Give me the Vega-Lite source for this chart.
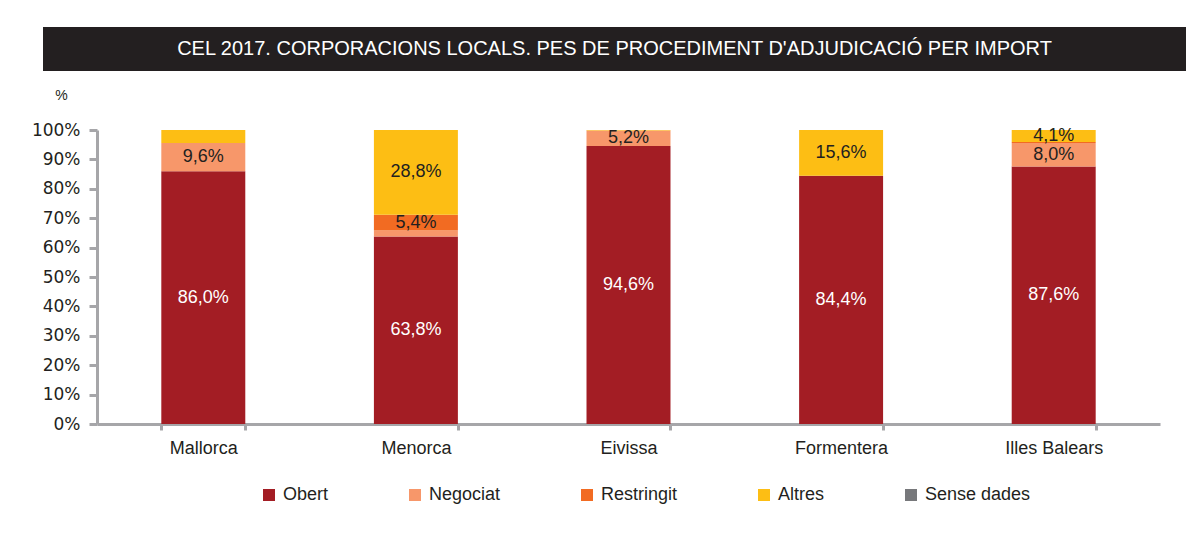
{
  "$schema": "https://vega.github.io/schema/vega-lite/v6.json",
  "autosize": {"type": "pad"},
  "padding": {"left": 31, "top": 27, "right": 0, "bottom": 12},
  "background": "white",
  "spacing": 59,
  "bounds": "flush",
  "config": {
    "view": {"stroke": null},
    "font": "Liberation Sans, Arial, sans-serif",
    "axisY": {
      "title": "%",
      "titleAngle": 0,
      "titleX": -36,
      "titleY": -35,
      "titleAlign": "center",
      "titleBaseline": "middle",
      "titleFontSize": 14,
      "titleFontWeight": "normal",
      "titleColor": "#231F20",
      "offset": -54,
      "values": [0, 10, 20, 30, 40, 50, 60, 70, 80, 90, 100],
      "labelOverlap": false,
      "labelFont": "DejaVu Sans",
      "labelFontSize": 17,
      "labelColor": "#231F20",
      "labelPadding": 9,
      "domainColor": "#A6A6A9",
      "domainWidth": 3,
      "tickColor": "#A6A6A9",
      "tickWidth": 3,
      "tickSize": 8,
      "grid": false
    }
  },
  "vconcat": [
    {
      "width": 1143,
      "height": 44,
      "view": {"fill": "#231F20", "stroke": null},
      "data": {"values": [{"titol": "CEL 2017. CORPORACIONS LOCALS. PES DE  PROCEDIMENT D'ADJUDICACIÓ PER IMPORT"}]},
      "mark": {"type": "text", "color": "#FFFFFF", "fontSize": 20, "align": "center", "baseline": "middle", "dy": 0},
      "encoding": {"text": {"field": "titol", "type": "nominal"}}
    },
    {
      "width": 1143,
      "height": 294,
      "data": {
        "values": [
          {"regio": "Mallorca", "tipus": "Obert", "valor": 86.0, "etiqueta": "86,0%"},
          {"regio": "Mallorca", "tipus": "Negociat", "valor": 9.6, "etiqueta": "9,6%"},
          {"regio": "Mallorca", "tipus": "Altres", "valor": 4.4, "etiqueta": ""},
          {"regio": "Menorca", "tipus": "Obert", "valor": 63.8, "etiqueta": "63,8%"},
          {"regio": "Menorca", "tipus": "Negociat", "valor": 2.0, "etiqueta": ""},
          {"regio": "Menorca", "tipus": "Restringit", "valor": 5.4, "etiqueta": "5,4%"},
          {"regio": "Menorca", "tipus": "Altres", "valor": 28.8, "etiqueta": "28,8%"},
          {"regio": "Eivissa", "tipus": "Obert", "valor": 94.6, "etiqueta": "94,6%"},
          {"regio": "Eivissa", "tipus": "Negociat", "valor": 5.2, "etiqueta": "5,2%"},
          {"regio": "Eivissa", "tipus": "Altres", "valor": 0.2, "etiqueta": ""},
          {"regio": "Formentera", "tipus": "Obert", "valor": 84.4, "etiqueta": "84,4%"},
          {"regio": "Formentera", "tipus": "Altres", "valor": 15.6, "etiqueta": "15,6%"},
          {"regio": "Illes Balears", "tipus": "Obert", "valor": 87.6, "etiqueta": "87,6%"},
          {"regio": "Illes Balears", "tipus": "Negociat", "valor": 8.0, "etiqueta": "8,0%"},
          {"regio": "Illes Balears", "tipus": "Restringit", "valor": 0.3, "etiqueta": ""},
          {"regio": "Illes Balears", "tipus": "Altres", "valor": 4.1, "etiqueta": "4,1%"}
        ]
      },
      "transform": [{"stack": "valor", "groupby": ["regio"], "as": ["v0", "v1"]}],
      "encoding": {
        "x": {
          "field": "regio",
          "type": "nominal",
          "sort": ["Mallorca", "Menorca", "Eivissa", "Formentera", "Illes Balears"],
          "scale": {"range": [54, 1117], "paddingInner": 0.605, "paddingOuter": 0.3025},
          "axis": {
            "title": null,
            "labelAngle": 0,
            "labelFontSize": 18,
            "labelColor": "#231F20",
            "labelPadding": 9,
            "domainColor": "#A6A6A9",
            "domainWidth": 3,
            "tickColor": "#A6A6A9",
            "tickWidth": 3,
            "tickSize": 6,
            "tickBand": "extent",
            "grid": false
          }
        }
      },
      "layer": [
        {
          "mark": {"type": "bar"},
          "encoding": {
            "y": {
              "field": "v0",
              "type": "quantitative",
              "title": "%",
              "scale": {"domain": [0, 100]},
              "axis": {"labelExpr": "datum.value + '%'", "values": [0, 10, 20, 30, 40, 50, 60, 70, 80, 90, 100]}
            },
            "y2": {"field": "v1"},
            "color": {
              "field": "tipus",
              "type": "nominal",
              "scale": {
                "domain": ["Obert", "Negociat", "Restringit", "Altres", "Sense dades"],
                "range": ["#A31D24", "#F7976A", "#F26B22", "#FDBE14", "#77787B"]
              },
              "legend": {
                "title": null,
                "orient": "none",
                "legendX": 217,
                "legendY": 459,
                "direction": "horizontal",
                "gridAlign": "none",
                "columnPadding": 77,
                "symbolType": "square",
                "symbolSize": 144,
                "symbolStrokeWidth": 0,
                "symbolOffset": 0,
                "labelOffset": 5,
                "labelFontSize": 18,
                "labelColor": "#231F20",
                "padding": 0
              }
            }
          }
        },
        {
          "transform": [
            {"filter": "datum.etiqueta != ''"},
            {"calculate": "(datum.v0 + datum.v1) / 2", "as": "centre"}
          ],
          "mark": {"type": "text", "fontSize": 18, "baseline": "middle", "align": "center"},
          "encoding": {
            "y": {
              "field": "centre",
              "type": "quantitative",
              "title": "%",
              "axis": {"labelExpr": "datum.value + '%'", "values": [0, 10, 20, 30, 40, 50, 60, 70, 80, 90, 100]}
            },
            "text": {"field": "etiqueta", "type": "nominal"},
            "fill": {
              "condition": {"test": "datum.tipus == 'Obert'", "value": "#FFFFFF"},
              "value": "#231F20"
            }
          }
        }
      ]
    }
  ]
}
